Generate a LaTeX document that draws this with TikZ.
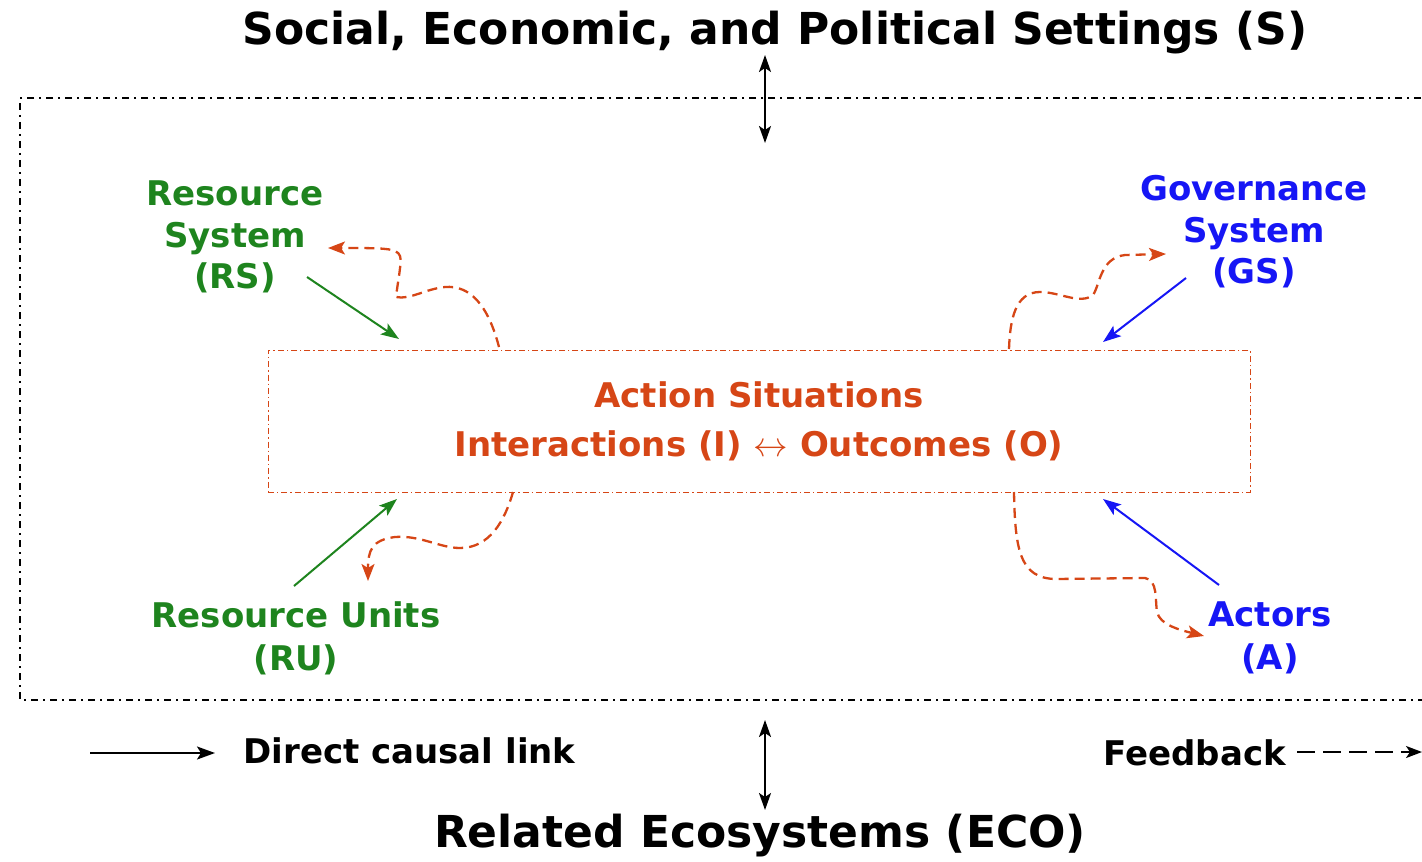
\documentclass[tikz,border=0pt]{standalone}
\usepackage{fontspec}
\setmainfont{DejaVu Sans}
\usetikzlibrary{arrows.meta,positioning}
\definecolor{asred}{RGB}{214,70,22}
\definecolor{rsgreen}{RGB}{30,132,30}
\definecolor{gsblue}{RGB}{22,22,245}

\begin{document}
\begin{tikzpicture}
    [
        x=0.5pt, y=-0.5pt,
        title/.style={font=\fontsize{22}{26}\selectfont\bfseries, inner sep=0pt},
        lbl/.style={font=\fontsize{17}{20.8}\selectfont\bfseries, align=center, inner sep=0pt},
        causal/.style={-{Stealth[length=9pt,width=6.5pt,inset=2pt]}, line width=1pt},
        fback/.style={asred, dash pattern=on 5pt off 3pt, line width=1.15pt, -{Stealth[length=8.5pt,width=6.5pt,inset=2pt]}},
        both/.style={{Stealth[length=8.5pt,width=6pt,inset=2pt]}-{Stealth[length=8.5pt,width=6pt,inset=2pt]}, line width=1pt},
    ]
\useasboundingbox (0,0) rectangle (1422,861);

\node[title] (s) at (775,33) {Social, Economic, and Political Settings (S)};
\node[title] (eco) at (760,836) {Related Ecosystems (ECO)};

% outer frame
\draw[dash pattern=on 3.5pt off 2.5pt on 1pt off 2.5pt, line width=0.8pt]
    (1440,98) -- (20,98) -- (20,700) -- (1440,700);

\node[draw=asred, dash pattern=on 3pt off 1.5pt on 0.7pt off 1.5pt, line width=0.5pt,
      minimum width=491pt, minimum height=71pt, lbl, font=\fontsize{17}{24.5}\selectfont\bfseries,
      text=asred] (as) at (759,421) {Action Situations\\Interactions (I) $\leftrightarrow$ Outcomes (O)};

\node[lbl, text=rsgreen] (rs) at (235,237) {Resource\\System\\(RS)};
\node[lbl, text=gsblue] (gs) at (1254,232) {Governance\\System\\(GS)};
\node[lbl, text=rsgreen, font=\fontsize{17}{21.5}\selectfont\bfseries] (ru) at (296,638) {Resource Units\\(RU)};
\node[lbl, text=gsblue, font=\fontsize{17}{21.5}\selectfont\bfseries] (a) at (1270,638) {Actors\\(A)};

% arrow ends
\coordinate (rsend) at (399,339);
\coordinate (ruend) at (397,499);
\coordinate (gsend) at (1103,342);
\coordinate (aend) at (1103,499);
\coordinate (stop) at (765,55);
\coordinate (sbot) at (765,143);
\coordinate (etop) at (765,720);
\coordinate (ebot) at (765,810);

\draw[causal, rsgreen] (307,277) -- (rsend);
\draw[causal, rsgreen] (294,586) -- (ruend);
\draw[causal, gsblue] (1186,278) -- (gsend);
\draw[causal, gsblue] (1219,585) -- (aend);

\draw[both] (stop) -- (sbot);
\draw[both] (etop) -- (ebot);

% feedback loops
\draw[fback] (499,347) .. controls (488,305) and (470,285) .. (445,287)
    .. controls (425,289) and (410,300) .. (396,297)
    .. controls (398,280) and (402,262) .. (400,256)
    .. controls (397,248) and (385,248) .. (328,248);
\draw[fback] (1009,349) .. controls (1010,320) and (1015,292) .. (1040,292)
    .. controls (1060,292) and (1080,305) .. (1093,295)
    .. controls (1100,285) and (1100,258) .. (1125,255) -- (1166,254);
\draw[fback] (513,492) .. controls (505,520) and (490,548) .. (460,548)
    .. controls (440,548) and (420,535) .. (395,537)
    .. controls (372,540) and (368,550) .. (368,581);
\draw[fback] (1014,492) .. controls (1015,550) and (1020,578) .. (1055,579) -- (1145,578)
    .. controls (1158,580) and (1155,600) .. (1157,612)
    .. controls (1160,625) and (1180,630) .. (1204,636);

% legend
\node[lbl, anchor=west] (dcl) at (243,751) {Direct causal link};
\node[lbl, anchor=west] (fbl) at (1103,753) {Feedback};
\coordinate (dclstart) at (90,753);
\coordinate (dclend) at (215,753);
\draw[causal, black] (dclstart) -- (dclend);
\coordinate (fbstart) at (1297,752);
\coordinate (fbend) at (1422,752);
\draw[dash pattern=on 9pt off 4pt, line width=1pt, -{Stealth[length=8pt,width=6pt,inset=2pt]}]
    (fbstart) -- (fbend);
\end{tikzpicture}
\end{document}
